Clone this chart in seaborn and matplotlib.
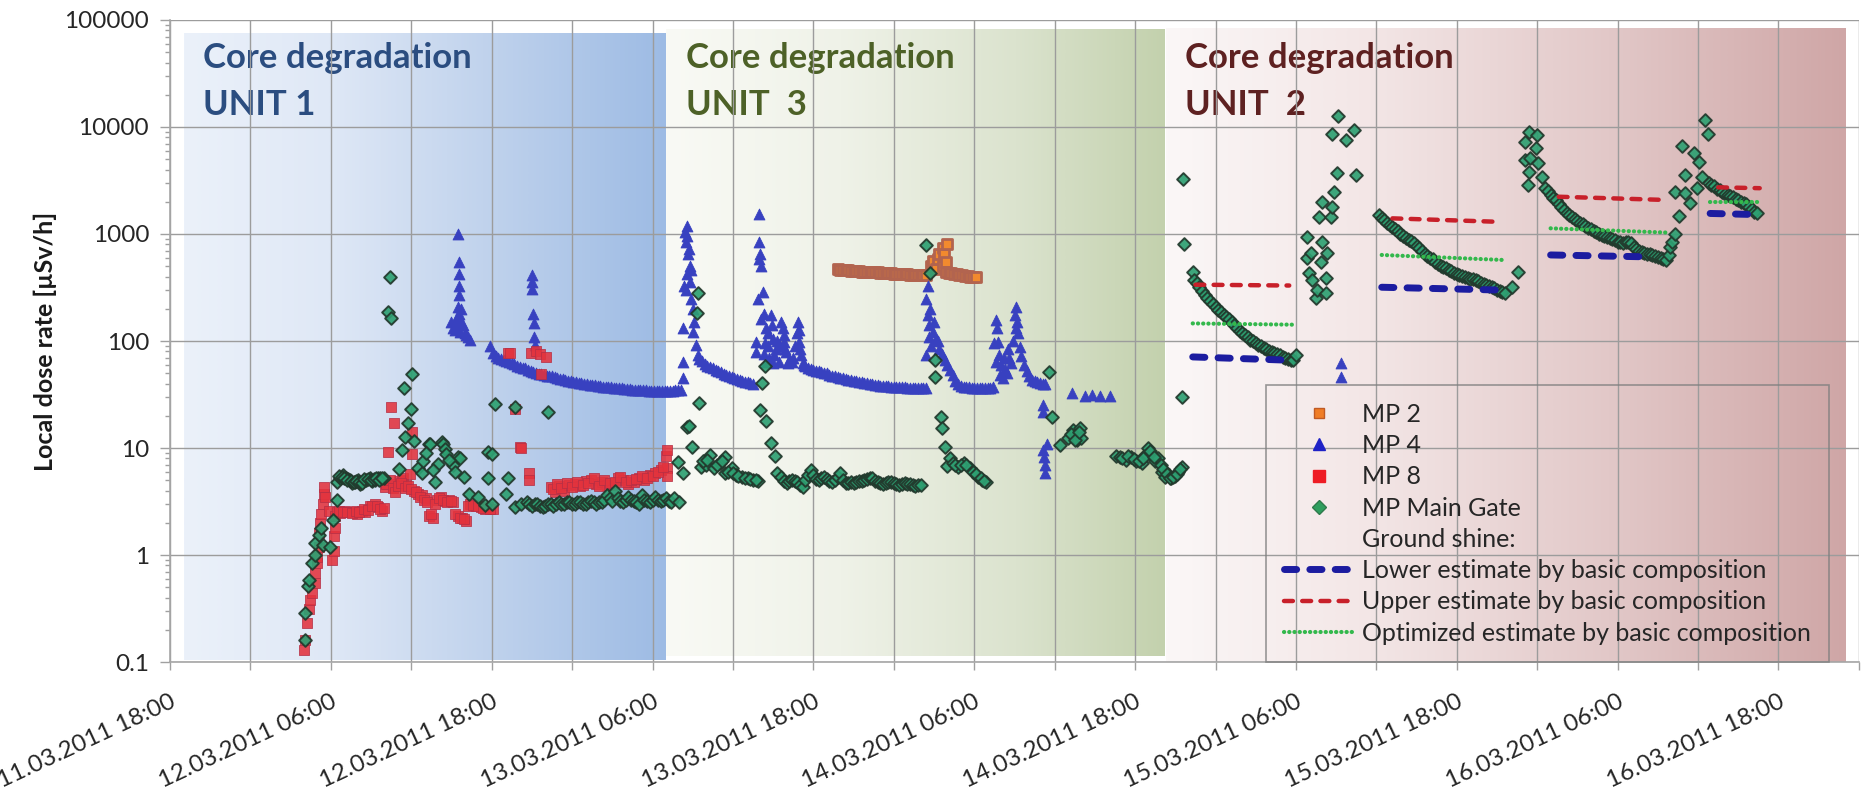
import numpy as np
import pandas as pd
import matplotlib
matplotlib.use("Agg")
import matplotlib.pyplot as plt
import matplotlib.dates as mdates
import matplotlib.transforms as mtransforms
from matplotlib.colors import LinearSegmentedColormap
from matplotlib.lines import Line2D
from matplotlib.ticker import FixedLocator, FixedFormatter, LogLocator, NullFormatter
import seaborn as sns

# Time axis: all times are hours after 11.03.2011 18:00
T0 = pd.Timestamp("2011-03-11 18:00")
T_END = pd.Timestamp("2011-03-17 00:00")

# ---------------- MP 2 (orange squares) ----------------
mp2_hours = [49.8, 50.0, 50.2, 50.4, 50.6, 50.8, 51.0, 51.2, 51.4, 51.6, 51.8, 52.0,
             52.2, 52.4, 52.6, 52.8, 53.0, 53.2, 53.4, 53.6, 53.8, 54.0, 54.2, 54.4,
             54.6, 54.8, 55.0, 55.2, 55.4, 55.6, 55.8, 56.0, 56.2, 56.4,
             56.77, 56.89, 57.14, 57.27, 57.39, 57.64, 57.70, 57.76, 57.89, 58.00,
             57.9, 58.1, 58.3, 58.5, 58.7, 58.9, 59.1, 59.3, 59.5, 59.7, 59.9, 60.1]
mp2_dose = [466, 462, 461, 458, 457, 455, 452, 451, 449, 446, 446, 443,
            441, 440, 438, 437, 434, 433, 431, 430, 428, 427, 425, 424,
            422, 421, 419, 418, 416, 415, 413, 412, 411, 410,
            507, 565, 472, 585, 651, 507, 740, 651, 544, 807,
            440, 432, 428, 425, 420, 418, 412, 408, 405, 400, 398, 395]

# ---------------- MP 4 (blue triangles) ----------------
mp4_hours = [
    # first peaks, 12.03 afternoon
    20.99, 21.12, 21.24, 21.36, 21.40, 21.49, 21.50, 21.53, 21.55, 21.55,
    21.56, 21.58, 21.61, 21.70, 21.74, 21.86, 21.98, 22.11, 22.24, 22.36,
    # decay through the night
    23.9, 24.1, 24.3, 24.5, 24.7, 24.9, 25.1, 25.3, 25.5, 25.7,
    25.9, 26.1, 26.3, 26.5, 26.7, 26.9, 27.1, 27.3, 27.5, 27.7,
    27.9, 28.1, 28.3, 28.5, 28.7, 28.9, 29.1, 29.3, 29.5, 29.7,
    29.9, 30.1, 30.3, 30.5, 30.7, 30.9, 31.1, 31.3, 31.5, 31.7,
    31.9, 32.1, 32.3, 32.5, 32.7, 32.9, 33.1, 33.3, 33.5, 33.7,
    33.9, 34.1, 34.3, 34.5, 34.7, 34.9, 35.1, 35.3, 35.5, 35.7,
    35.9, 36.1, 36.3, 36.5, 36.7, 36.9, 37.1, 37.3, 37.5, 37.7,
    37.9, 38.1,
    27.03, 27.03, 27.03, 27.05, 27.13, 27.13, 27.20,
    # unit 3 peaks
    38.26, 38.26, 38.28, 38.38, 38.45, 38.50, 38.51, 38.55, 38.56, 38.60,
    38.63, 38.70, 38.76, 38.76, 38.88, 38.88, 39.00, 39.00, 39.13, 39.25, 39.38,
    39.5, 39.7, 39.9, 40.1, 40.3, 40.5, 40.7, 40.9, 41.1, 41.3,
    41.5, 41.7, 41.9, 42.1, 42.3, 42.5, 42.7, 42.9, 43.1, 43.3, 43.5,
    43.73, 43.73, 43.85, 43.92, 43.92, 43.97, 44.00, 44.10, 44.10, 44.22,
    44.30, 44.47, 44.47, 44.60, 44.84, 44.90, 44.97, 45.09, 45.20, 45.46,
    45.71, 45.80, 45.84, 45.96, 46.20, 46.50, 46.83, 46.90, 46.96, 47.08, 47.20,
    44.3, 44.4, 44.6, 44.7, 45.0, 45.3, 45.5, 45.6, 45.9, 46.1,
    46.4, 46.6, 46.75, 47.0, 47.3,
    47.4, 47.6, 47.8, 48.0, 48.2, 48.4, 48.6, 48.8, 49.0, 49.2,
    49.4, 49.6, 49.8, 50.0, 50.2, 50.4, 50.6, 50.8, 51.0, 51.2,
    51.4, 51.6, 51.8, 52.0, 52.2, 52.4, 52.6, 52.8, 53.0, 53.2,
    53.4, 53.6, 53.8, 54.0, 54.2, 54.4, 54.6, 54.8, 55.0, 55.2,
    55.4, 55.6, 55.8, 56.0, 56.2, 56.4,
    56.40, 56.40, 56.52, 56.52, 56.60, 56.64, 56.70, 56.80, 56.89, 57.00,
    57.14, 57.30, 57.39,
    57.6, 57.8, 58.0, 58.2, 58.4, 58.6, 58.8, 59.0, 59.2, 59.4,
    59.6, 59.8, 60.0, 60.2, 60.4, 60.6, 60.8, 61.0, 61.2, 61.4,
    61.50, 61.60, 61.60, 61.70, 61.75, 61.85, 62.00, 62.30, 62.60, 62.90,
    63.05, 63.10, 63.15, 63.20, 63.30, 63.40,
    61.95, 62.15, 62.45, 62.75, 62.2, 62.5,
    63.5, 63.7, 63.9, 64.1, 64.3, 64.5, 64.7, 64.9, 65.1, 65.3,
    65.10, 65.15, 65.15, 65.20, 65.25, 65.30, 65.40,
    67.3, 68.3, 68.8, 69.4, 70.1,
    # unit 2
    87.33, 87.33]
mp4_dose = [
    151, 131, 126, 162, 140, 1000, 210, 553, 425, 330,
    267, 180, 122, 150, 200, 140, 118, 113, 108, 102,
    90, 77, 72, 70, 68, 66.5, 65, 63.5, 62, 60.5,
    59, 57.5, 56.5, 55.5, 54, 52.8, 51.5, 50, 49.3, 48.7,
    48, 47.5, 47.1, 46.7, 46, 45.3, 44.6, 43.9, 43.2, 42.6,
    42.1, 41.6, 41.1, 40.6, 40.2, 39.8, 39.5, 39.1, 38.8, 38.4,
    38.1, 37.8, 37.5, 37.3, 37.1, 36.8, 36.6, 36.5, 36.3, 36.0,
    35.8, 35.6, 35.4, 35.2, 35.1, 34.9, 34.8, 34.7, 34.5, 34.4,
    34.3, 34.2, 34.2, 34.3, 34.3, 34.2, 34.3, 34.4, 34.4, 34.5,
    34.5, 34.6,
    410, 355, 307, 180, 146, 109, 91,
    44.8, 64, 131, 330, 1050, 300, 836, 950, 1196, 420,
    651, 720, 507, 355, 456, 248, 200, 122, 151, 91, 74,
    68, 64.5, 61.5, 59, 57, 55.5, 54, 52.5, 51, 49.5,
    48, 47, 46, 45, 44.2, 43.2, 42.4, 41.8, 41.2, 40.6, 40,
    98, 79, 248, 1535, 836, 585, 650, 507, 162, 286,
    180, 131, 64, 90, 174, 140, 105, 74, 85, 64,
    131, 115, 98, 79, 66, 70, 151, 128, 98, 74, 62,
    75, 95, 120, 70, 62, 100, 90, 150, 85, 62,
    64, 90, 120, 85, 60,
    58, 56.5, 55, 54, 53, 52, 51, 50.4, 49.7, 48.6,
    47.6, 46.9, 46.2, 45.5, 44.8, 44.1, 43.5, 43.0, 42.5, 42.1,
    41.7, 41.2, 40.7, 40.2, 39.8, 39.3, 38.9, 38.6, 38.2, 38.0,
    37.8, 37.7, 37.5, 37.4, 37.2, 37.0, 36.9, 36.8, 36.7, 36.6,
    36.4, 36.3, 36.2, 36.2, 36.1, 36.1,
    74, 248, 330, 174, 110, 140, 200, 90, 122, 150,
    105, 100, 85,
    75, 67, 60, 54, 48, 42.5, 39.5, 38.2, 37.5, 37.0,
    36.8, 36.5, 36.3, 36.1, 36.0, 36.0, 36.0, 36.1, 36.2, 37,
    95, 157, 64, 131, 98, 74, 60, 55, 70, 100,
    174, 131, 208, 151, 118, 87,
    48, 45, 50, 62, 70, 85,
    72, 60, 52, 47, 43, 42, 41, 40.3, 40, 39.5,
    25, 21.5, 9.5, 8.3, 7.0, 5.9, 11,
    32.7, 30.5, 31.4, 30.5, 30.5,
    62, 46]

# ---------------- MP 8 (red squares) ----------------
mp8_hours = [
    10.02, 10.10, 10.22, 10.35, 10.47, 10.60, 10.80, 10.85, 10.97, 11.00,
    11.10, 11.15, 11.20, 11.30, 11.40, 11.47, 11.50, 11.60, 11.84, 12.09,
    12.20, 12.20, 12.30, 12.30,
    12.46, 12.70, 13.08, 13.40, 13.70, 13.95, 14.30, 14.57, 14.90, 15.30, 15.55, 15.80,
    12.6, 12.9, 13.2, 13.55, 13.85, 14.1, 14.45, 14.75, 15.1, 15.45, 15.7, 16.0,
    16.06, 16.30, 16.50, 16.70, 16.90, 17.10, 17.30, 17.40, 17.60, 17.90,
    18.05, 18.05, 18.20, 18.50, 18.80, 19.10, 19.30, 19.60, 19.90, 20.20,
    20.50, 20.80, 21.10, 21.50, 21.80, 22.10, 22.40, 22.80, 23.20, 23.50,
    23.76, 24.10,
    16.15, 16.4, 16.6, 16.8, 17.0, 17.2, 17.5, 17.75, 18.0, 18.35,
    18.65, 18.95, 19.2, 19.45, 19.75, 20.05, 20.35, 20.65, 20.95, 21.3,
    21.65, 21.95, 22.25, 22.6, 23.0, 23.35, 23.9,
    25.25, 25.40, 25.75, 26.10, 26.20, 26.80, 26.80, 26.96, 27.30, 27.58, 27.70, 28.08,
    28.4, 28.7, 29.0, 29.4, 29.8, 30.2, 30.6, 31.0, 31.4, 31.8, 32.2, 32.6,
    33.0, 33.4, 33.8, 34.2, 34.6, 35.0, 35.4, 35.8, 36.2, 36.6, 37.0, 37.1, 37.05, 37.1,
    28.55, 28.85, 29.2, 29.6, 30.0, 30.4, 30.8, 31.2, 31.6, 32.0, 32.4,
    32.8, 33.2, 33.6, 34.0, 34.4, 34.8, 35.2, 35.6, 36.0, 36.4, 36.8]
mp8_dose = [
    0.13, 0.16, 0.23, 0.31, 0.38, 0.44, 0.55, 0.68, 0.84, 0.96,
    1.2, 1.6, 2.0, 2.4, 3.0, 3.75, 4.3, 3.5, 2.6, 0.9,
    1.1, 1.5, 1.8, 2.3,
    2.5, 2.45, 2.6, 2.5, 2.5, 2.4, 2.6, 2.5, 2.85, 3.0, 2.8, 2.6,
    2.6, 2.5, 2.55, 2.45, 2.6, 2.5, 2.7, 2.65, 2.9, 2.9, 2.7, 2.75,
    4.3, 9.1, 24.3, 17.0, 4.6, 4.9, 5.0, 5.3, 4.5, 5.7,
    14.1, 8.8, 4.0, 3.7, 3.6, 3.4, 2.3, 2.2, 3.3, 3.5,
    3.2, 3.3, 3.1, 2.3, 2.2, 2.1, 3.0, 2.9, 2.8, 2.7,
    2.8, 2.7,
    4.6, 5.0, 4.2, 3.9, 4.4, 4.7, 4.2, 4.4, 4.1, 3.9,
    3.5, 3.3, 3.1, 2.4, 3.0, 3.4, 3.3, 3.1, 3.2, 2.4,
    2.2, 2.15, 2.9, 2.95, 2.85, 2.75, 2.7,
    78, 78, 23, 10.2, 10.0, 5.9, 5.0, 78, 80, 76, 48.8, 71,
    4.3, 3.9, 4.4, 4.0, 4.5, 4.6, 4.4, 4.9, 5.0, 4.6, 4.8, 4.5,
    4.5, 5.2, 5.0, 4.6, 4.8, 5.3, 5.0, 5.6, 5.8, 6.2, 8.5, 9.5, 6.5, 5.5,
    4.1, 4.6, 4.2, 4.7, 4.3, 4.8, 4.5, 4.7, 5.2, 4.4, 5.0,
    4.7, 4.8, 5.4, 4.8, 5.0, 5.1, 5.5, 5.2, 5.5, 6.0, 6.6]

# ---------------- MP Main Gate (green diamonds) ----------------
gate_hours = [
    # unit 1
    10.05, 10.10, 10.30, 10.35, 10.60, 10.80, 10.85, 11.10, 11.30, 11.40,
    11.96, 12.14, 12.46, 12.46, 12.70, 12.90, 13.10, 13.30, 13.45, 13.60,
    13.80, 14.00, 14.20, 14.40, 14.60, 14.90, 15.10, 15.30, 15.50, 15.70,
    16.00, 16.30, 16.40, 16.50,
    12.6, 12.8, 13.0, 13.2, 13.5, 13.7, 13.9, 14.1, 14.3, 14.5,
    14.75, 15.0, 15.2, 15.4, 15.6, 15.85,
    17.05, 17.30, 17.45, 17.55, 17.75, 18.00, 18.05, 18.20, 18.50, 18.80,
    19.30, 19.40, 19.80, 20.00, 20.30, 20.40, 20.50, 20.60, 21.15, 21.50,
    21.60, 21.90, 22.30, 23.00, 23.50, 23.76, 23.76, 24.00, 24.00, 24.26,
    25.10, 25.25, 25.75, 25.75, 26.20, 18.90, 19.10, 19.60, 20.80, 21.30,
    28.2,
    26.6, 26.8, 27.0, 27.2, 27.4, 27.6, 27.8, 28.0, 28.2, 28.4,
    28.6, 28.8, 29.0, 29.2, 29.4, 29.6, 29.8, 30.0, 30.2, 30.4,
    30.6, 30.8, 31.0, 31.2, 31.4, 31.6, 31.8, 32.0, 32.2, 32.4,
    32.6, 32.8, 33.0, 33.2, 33.4, 33.6, 33.8, 34.0, 34.2, 34.4,
    34.6, 34.8, 35.0, 35.2, 35.4, 35.6, 35.8, 36.0, 36.2, 36.4,
    36.6, 36.8, 37.0, 37.2, 37.4,
    # unit 3
    37.60, 37.90, 38.00, 38.30, 38.55, 38.70, 38.95, 39.30, 39.40, 39.50,
    39.60, 40.00, 40.30, 40.60, 41.00, 41.40, 41.40, 41.90, 42.20, 42.70,
    43.10, 43.50, 43.90, 44.00, 44.20, 44.40, 44.50, 44.85, 45.10, 45.30,
    39.8, 40.1, 40.8, 41.2, 41.6, 42.0, 42.4, 42.9, 43.3, 43.7,
    45.6, 45.8, 46.0, 46.2, 46.4, 46.6, 46.8, 47.0, 47.2, 47.4,
    47.6, 47.8, 48.0, 48.2, 48.4, 48.6, 48.8, 49.0, 49.2, 49.4,
    49.6, 49.8, 50.0, 50.2, 50.4, 50.6, 50.8, 51.0, 51.2, 51.4,
    51.6, 51.8, 52.0, 52.2, 52.4, 52.6, 52.8, 53.0, 53.2, 53.4,
    53.6, 53.8, 54.0, 54.2, 54.4, 54.6, 54.8, 55.0, 55.2, 55.4,
    55.6, 55.8, 56.0,
    56.40, 56.70, 57.10, 57.10, 57.50, 57.60, 57.85, 58.00, 58.20, 58.40,
    58.80, 59.20, 59.70, 60.30, 60.60, 60.90,
    58.6, 59.0, 59.4, 59.9, 60.1, 60.5, 60.75,
    65.60, 65.80, 66.40, 67.00, 67.35, 67.60, 67.70, 67.90, 68.00, 70.60,
    70.90, 71.30, 71.70, 72.10, 72.50, 72.80, 73.00, 73.20, 73.50, 73.70,
    74.00, 74.20, 74.50, 74.70, 75.00, 75.20, 75.50, 75.50,
    67.2, 67.5, 67.8,
    71.0, 71.5, 71.9, 72.3, 72.6, 73.1, 73.4, 73.9, 74.1, 74.35,
    74.6, 74.85, 75.1, 75.35,
    # unit 2
    75.60, 75.65, 76.30,
    76.4, 76.6, 76.8, 77.0, 77.2, 77.4, 77.6, 77.8, 78.0, 78.2,
    78.4, 78.6, 78.8, 79.0, 79.2, 79.4, 79.6, 79.8, 80.0, 80.2,
    80.4, 80.6, 80.8, 81.0, 81.2, 81.4, 81.6, 81.8, 82.0, 82.2,
    82.4, 82.6, 82.8, 83.0, 83.2, 83.4, 83.6, 83.8, 84.0,
    84.85, 84.85, 84.97, 85.10, 85.22, 85.47, 85.60, 85.72, 85.84, 85.96,
    85.96, 86.21, 86.21, 86.34, 86.59, 86.66, 86.71, 86.83, 87.08, 87.16,
    87.70, 88.32, 88.50,
    90.2, 90.4, 90.6, 90.8, 91.0, 91.2, 91.4, 91.6, 91.8, 92.0,
    92.2, 92.4, 92.6, 92.8, 93.0, 93.2, 93.4, 93.6, 93.8, 94.0,
    94.2, 94.4, 94.6, 94.8, 95.0, 95.2, 95.4, 95.6, 95.8, 96.0,
    96.2, 96.4, 96.6, 96.8, 97.0, 97.2, 97.4, 97.6, 97.8, 98.0,
    98.2, 98.4, 98.6, 98.8, 99.0, 99.2, 99.4, 99.6, 100.1, 100.6,
    101.07, 101.12, 101.32, 101.37, 101.37, 101.49, 101.91, 101.99, 102.06, 102.36,
    102.6, 102.8, 103.0, 103.2, 103.4, 103.6, 103.8, 104.0, 104.2, 104.4,
    104.6, 104.8, 105.0, 105.2, 105.4, 105.6, 105.8, 106.0, 106.2, 106.4,
    106.6, 106.8, 107.0, 107.2, 107.4, 107.6, 107.8, 108.0, 108.2, 108.4,
    108.6, 108.8, 109.0, 109.2, 109.4, 109.6, 109.8, 110.0, 110.2, 110.4,
    110.6, 110.8, 111.0, 111.2, 111.4, 111.6,
    111.80, 111.92, 112.05, 112.30, 112.55, 112.30, 112.80, 113.04, 113.04, 113.40,
    113.66, 113.91, 114.04, 114.29, 114.53, 114.73,
    114.8, 115.0, 115.2, 115.4, 115.6, 115.8, 116.0, 116.2, 116.4, 116.6,
    116.8, 117.0, 117.2, 117.4, 117.6, 117.8, 118.0, 118.2, 118.4]
gate_dose = [
    0.16, 0.29, 0.51, 0.58, 0.84, 1.0, 1.29, 1.53, 1.77, 1.24,
    1.2, 2.12, 3.3, 4.8, 5.3, 5.6, 5.3, 5.1, 5.0, 4.7,
    4.8, 5.0, 4.6, 4.9, 5.0, 5.2, 4.9, 5.0, 5.3, 5.2,
    5.3, 186, 396, 164,
    5.5, 5.4, 5.2, 5.0, 4.9, 4.8, 4.9, 4.8, 4.7, 5.1,
    5.1, 5.0, 5.1, 5.2, 5.0, 5.3,
    6.4, 9.5, 36.3, 12.6, 17.0, 23.1, 49, 11.7, 6.5, 5.8,
    10.9, 10.8, 4.8, 7.1, 11.3, 10.8, 9.8, 8.7, 6.9, 8.2,
    8.1, 5.4, 3.75, 3.5, 2.92, 9.1, 5.2, 3.0, 8.8, 25.8,
    3.75, 5.3, 24, 2.82, 3.0, 7.5, 9.0, 6.2, 7.8, 6.0,
    21.6,
    3.1, 3.0, 2.9, 3.0, 3.0, 2.9, 2.8, 2.9, 3.0, 3.0,
    2.9, 3.0, 3.1, 3.0, 3.0, 3.1, 3.1, 3.0, 3.0, 3.1,
    3.1, 3.0, 3.0, 3.1, 3.2, 3.1, 3.0, 3.1, 3.1, 3.3,
    3.6, 3.4, 3.2, 4.0, 3.4, 3.2, 3.1, 3.3, 3.5, 3.3,
    3.2, 3.1, 3.0, 3.6, 3.3, 3.2, 3.1, 3.3, 3.5, 3.3,
    3.2, 3.3, 3.4, 3.2, 3.1,
    3.4, 7.4, 3.1, 5.8, 15.7, 16, 10.2, 183, 281, 26.4,
    6.7, 7.0, 8.6, 6.5, 7.2, 8.3, 5.8, 6.5, 5.6, 5.4,
    5.2, 5.0, 4.9, 22.6, 40.8, 58, 17.9, 11.1, 8.4, 5.8,
    7.5, 7.8, 7.0, 7.6, 6.0, 5.9, 5.5, 5.3, 5.1, 5.0,
    5.4, 4.9, 4.7, 4.9, 5.0, 4.9, 4.8, 4.5, 4.3, 5.0,
    5.6, 6.2, 5.6, 5.1, 5.0, 5.2, 5.4, 5.1, 4.9, 4.8,
    5.0, 5.4, 5.8, 5.0, 4.7, 4.7, 4.8, 4.7, 4.8, 4.9,
    4.9, 5.0, 5.1, 5.3, 5.2, 4.9, 4.8, 4.7, 4.6, 4.7,
    4.8, 4.8, 4.7, 4.6, 4.5, 4.6, 4.7, 4.6, 4.6, 4.5,
    4.4, 4.5, 4.5,
    789, 435, 66, 46, 19.3, 15.4, 10.2, 6.8, 8.0, 7.2,
    6.6, 7.3, 6.5, 5.4, 5.0, 4.8,
    6.9, 7.0, 6.9, 6.0, 5.7, 5.2, 4.9,
    51.6, 19.5, 10.6, 12.5, 14.7, 13.0, 11.8, 15.3, 12.5, 8.5,
    8.3, 7.8, 8.2, 7.6, 7.3, 8.8, 10.1, 8.7, 7.5, 8.0,
    6.0, 5.4, 5.6, 5.3, 5.5, 6.0, 6.6, 30,
    13.5, 12.0, 14.0,
    8.0, 8.5, 7.9, 7.5, 8.0, 9.3, 8.2, 7.0, 6.4, 5.7,
    5.2, 5.4, 5.7, 6.3,
    3245, 807, 444,
    371, 345, 320, 292, 270, 252, 236, 222, 208, 196,
    186, 176, 169, 160, 150, 141, 133, 125, 118, 113,
    108, 103, 99, 95, 92, 89, 86, 83.5, 81, 79,
    77.5, 76, 73.5, 71.5, 69.6, 68, 67, 66.5, 74.6,
    944, 593, 430, 661, 372, 251, 300, 1452, 551, 847,
    2004, 279, 385, 661, 1452, 8610, 1800, 2483, 3690, 12670,
    7570, 9380, 3556,
    1507, 1420, 1340, 1270, 1220, 1170, 1110, 1060, 1010, 960,
    920, 885, 860, 830, 780, 735, 690, 655, 625, 600,
    578, 552, 528, 505, 490, 476, 463, 448, 435, 422,
    412, 404, 396, 389, 382, 376, 372, 360, 350, 342,
    335, 328, 322, 311, 300, 293, 285, 279, 322, 444,
    4920, 7290, 2870, 9040, 3820, 5170, 6310, 8410, 4570, 3440,
    2675, 2500, 2330, 2180, 2060, 1920, 1800, 1680, 1580, 1510,
    1450, 1390, 1330, 1280, 1235, 1190, 1150, 1110, 1070, 1040,
    1010, 980, 955, 930, 910, 890, 870, 850, 835, 830,
    845, 850, 820, 760, 720, 700, 680, 665, 655, 648,
    640, 628, 615, 600, 585, 571,
    637, 760, 847, 1000, 1460, 2490, 6640, 3560, 2400, 1937,
    5670, 2675, 4740, 3440, 11600, 8610,
    3000, 2900, 2800, 2650, 2560, 2450, 2380, 2300, 2250, 2210,
    2130, 2060, 2000, 1960, 1900, 1800, 1700, 1620, 1560]

# ---------------- Ground shine estimates (one segment per interval) ----------------
lower_start_h = [76.3, 90.4, 103.0, 114.9]
lower_end_h = [83.7, 98.9, 109.8, 118.3]
lower_start_v = [71, 318, 637, 1556]
lower_end_v = [66, 300, 613, 1520]

upper_start_h = [76.5, 91.2, 103.6, 115.5]
upper_end_h = [83.5, 99.1, 111.6, 118.6]
upper_start_v = [336, 1400, 2230, 2730]
upper_end_v = [330, 1300, 2080, 2680]

optim_start_h = [76.3, 90.4, 103.0, 114.9]
optim_end_h = [84.0, 99.6, 111.8, 118.6]
optim_start_v = [146, 637, 1130, 2010]
optim_end_v = [142, 571, 1030, 2010]

# ---------------- Core degradation periods ----------------
period_labels = ["Core degradation\nUNIT 1", "Core degradation\nUNIT  3", "Core degradation\nUNIT  2"]
period_start_h = [1.04, 37.04, 74.3]
period_end_h = [37.04, 74.3, 125.1]

y_ticks = [0.1, 1, 10, 100, 1000, 10000, 100000]
y_tick_labels = ["0.1", "1", "10", "100", "1000", "10000", "100000"]


def to_time(hours):
    return T0 + pd.to_timedelta(np.asarray(hours, dtype=float), unit="h")


sns.set_theme(style="white")
plt.rcParams["font.family"] = ["Lato", "DejaVu Sans"]

fig = plt.figure(figsize=(18.66, 7.90), dpi=100)
ax = fig.add_axes([0.0911, 0.1620, 0.9051, 0.8127])
ax.set_yscale("log")

# measurement series (later series drawn on top)
c_mp2, e_mp2 = "#f28a2e", "#b2644f"
c_mp4 = "#3841c0"
c_mp8, e_mp8 = "#e3333d", "#b52f45"
c_gate, e_gate = "#2ea072", "#22382c"

df2 = pd.DataFrame({"time": to_time(mp2_hours), "dose": mp2_dose})
df4 = pd.DataFrame({"time": to_time(mp4_hours), "dose": mp4_dose})
df8 = pd.DataFrame({"time": to_time(mp8_hours), "dose": mp8_dose})
dfg = pd.DataFrame({"time": to_time(gate_hours), "dose": gate_dose})

sns.scatterplot(data=df2, x="time", y="dose", marker="s", s=62, color=c_mp2,
                edgecolor=e_mp2, linewidth=2.0, ax=ax, zorder=3, legend=False)
sns.scatterplot(data=df4, x="time", y="dose", marker="^", s=62, color=c_mp4,
                edgecolor=c_mp4, linewidth=0.6, ax=ax, zorder=3.1, legend=False)
sns.scatterplot(data=df8, x="time", y="dose", marker="s", s=62, color=c_mp8,
                edgecolor=e_mp8, linewidth=0.6, alpha=0.88, ax=ax, zorder=3.2, legend=False)
sns.scatterplot(data=dfg, x="time", y="dose", marker="D", s=42, color=c_gate,
                edgecolor=e_gate, linewidth=1.4, alpha=0.92, ax=ax, zorder=3.3, legend=False)

# ground shine estimate lines
c_lower, c_upper, c_optim = "#1c1ca0", "#c8202a", "#33b84c"
ls_lower = dict(color=c_lower, lw=5.0, linestyle=(0, (1.75, 1.9)), dash_capstyle="round")
ls_upper = dict(color=c_upper, lw=3.2, linestyle=(0, (2.0, 2.1)), dash_capstyle="round")
ls_optim = dict(color=c_optim, lw=3.0, linestyle=(0, (0.05, 1.2)), dash_capstyle="round")


def segments_frame(h0, h1, v0, v1):
    rows = []
    for k, (a, b, va, vb) in enumerate(zip(h0, h1, v0, v1)):
        rows.append({"seg": k, "time": to_time([a])[0], "dose": va})
        rows.append({"seg": k, "time": to_time([b])[0], "dose": vb})
    return pd.DataFrame(rows)


for frame, style in [
    (segments_frame(lower_start_h, lower_end_h, lower_start_v, lower_end_v), ls_lower),
    (segments_frame(upper_start_h, upper_end_h, upper_start_v, upper_end_v), ls_upper),
    (segments_frame(optim_start_h, optim_end_h, optim_start_v, optim_end_v), ls_optim),
]:
    sns.lineplot(data=frame, x="time", y="dose", units="seg", estimator=None,
                 sort=False, ax=ax, zorder=4, legend=False, **style)

# axis limits
ax.set_autoscale_on(False)
ax.set_xlim(T0, T_END)
ax.set_ylim(0.1, 100000)

# gradient-shaded core degradation periods
blend = mtransforms.blended_transform_factory(ax.transData, ax.transAxes)
period_colors = [
    [(0.0, "#ebf1fa"), (0.3, "#dfe8f6"), (0.65, "#bed1ec"), (1.0, "#9dbbe4")],
    [(0.0, "#f9faf5"), (0.35, "#eff2e8"), (0.7, "#dbe3ce"), (1.0, "#c3d1ad")],
    [(0.0, "#fbf7f7"), (0.3, "#f3e6e6"), (0.65, "#e2c8c8"), (1.0, "#cfa6a6")],
]
period_yspan = [(0.003, 0.980), (0.009, 0.986), (0.0, 0.989)]
period_text_colors = ["#2b4d80", "#4d6127", "#5e2121"]
grad = np.linspace(0, 1, 256).reshape(1, -1)
for label, h0, h1, cols, (yb, yt), tc in zip(period_labels, period_start_h, period_end_h,
                                             period_colors, period_yspan, period_text_colors):
    cmap = LinearSegmentedColormap.from_list("shade", cols)
    x0 = mdates.date2num(to_time([h0])[0])
    x1 = mdates.date2num(to_time([h1])[0])
    ax.imshow(grad, cmap=cmap, extent=[x0, x1, yb, yt], transform=blend,
              aspect="auto", interpolation="bilinear", zorder=0)
    ax.text(mdates.date2num(to_time([h0 + 1.45])[0]), 0.965, label, transform=blend,
            ha="left", va="top", fontsize=25, fontweight="bold", color=tc,
            linespacing=1.55, zorder=0.3)

ax.set_xlim(T0, T_END)
ax.set_ylim(0.1, 100000)

# grid & ticks
grid_color = "#9c9c9c"
ax.set_axisbelow(True)
ax.xaxis.set_major_locator(mdates.HourLocator(byhour=[6, 18]))
ax.xaxis.set_minor_locator(mdates.HourLocator(byhour=[0, 12]))
ax.xaxis.set_major_formatter(mdates.DateFormatter("%d.%m.%Y %H:%M"))
ax.yaxis.set_major_locator(FixedLocator(y_ticks))
ax.yaxis.set_major_formatter(FixedFormatter(y_tick_labels))
ax.yaxis.set_minor_locator(LogLocator(base=10, subs=np.arange(2, 10)))
ax.yaxis.set_minor_formatter(NullFormatter())
ax.grid(True, which="both", axis="x", color=grid_color, lw=1.0, zorder=0.5)
ax.grid(True, which="major", axis="y", color=grid_color, lw=1.0, zorder=0.5)

ax.tick_params(axis="y", which="major", direction="out", length=7, width=1,
               color="#a0a0a0", labelsize=17.5, labelcolor="#262626", pad=8, left=True)
ax.tick_params(axis="y", which="minor", direction="out", length=3.5, width=1,
               color="#a0a0a0", left=True)
ax.tick_params(axis="x", which="both", direction="out", length=6, width=1,
               color="#a0a0a0", labelsize=17.5, labelcolor="#262626", pad=15, bottom=True)
plt.setp(ax.get_xticklabels(), rotation=25, ha="right", va="top", rotation_mode="anchor")

for side in ["top", "right"]:
    ax.spines[side].set_visible(False)
for side in ["left", "bottom"]:
    ax.spines[side].set_color("#a6a6a6")
    ax.spines[side].set_linewidth(1.2)

ax.set_xlabel("")
ax.set_ylabel("Local dose rate [µSv/h]", fontsize=18, fontweight="bold", color="#1a1a1a")
ax.yaxis.set_label_coords(-0.067, 0.50)

# legend
handles = [
    Line2D([], [], ls="none", marker="s", ms=7.5, mfc="#f07d26", mec="#c05a24", mew=1.0),
    Line2D([], [], ls="none", marker="^", ms=8.5, mfc="#1f22c6", mec="#1f22c6"),
    Line2D([], [], ls="none", marker="s", ms=8.5, mfc="#ee1c24", mec="#ee1c24"),
    Line2D([], [], ls="none", marker="D", ms=7.5, mfc="#2f9e5e", mec="#2f7a4c"),
    Line2D([], [], ls="none"),
    Line2D([], [], **ls_lower),
    Line2D([], [], **ls_upper),
    Line2D([], [], **ls_optim),
]
labels = ["MP 2", "MP 4", "MP 8", "MP Main Gate", "Ground shine:",
          "Lower estimate by basic composition", "Upper estimate by basic composition",
          "Optimized estimate by basic composition"]
leg = ax.legend(handles, labels, loc="lower left", bbox_to_anchor=(0.649, 0.0),
                borderaxespad=0.0, fontsize=18, labelspacing=0.33, handlelength=2.8,
                handletextpad=0.35, borderpad=0.7, frameon=True, fancybox=False,
                labelcolor="#262626")
leg.get_frame().set_facecolor("none")
leg.get_frame().set_edgecolor("#7f7f7f")
leg.get_frame().set_linewidth(1.2)
leg.set_zorder(6)

fig.savefig("out.png", dpi=100)
